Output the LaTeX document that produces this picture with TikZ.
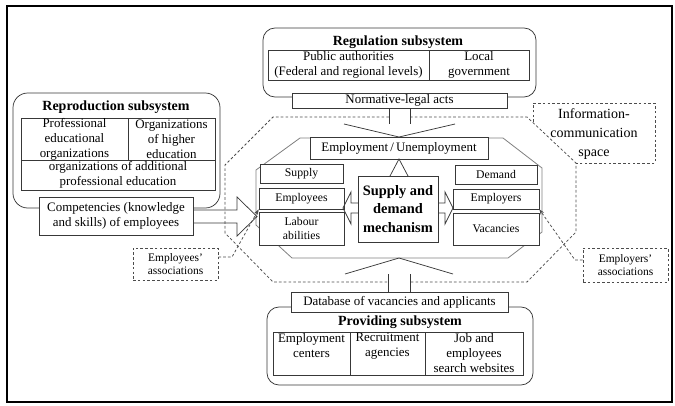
\documentclass[tikz,border=0pt]{standalone}
\usepackage{fontspec}
\setmainfont{Liberation Serif}
\usetikzlibrary{arrows.meta}
\begin{document}
\begin{tikzpicture}[x=0.75pt,y=-0.75pt,
  ln/.style={draw=black!78, line width=0.55pt},
  bx/.style={ln, fill=white, rectangle, inner sep=0pt, align=center, font=\fontsize{9.7}{11.3}\selectfont},
  wh/.style 2 args={minimum width={#1*0.75pt}, minimum height={#2*0.75pt}},
  sm/.style={font=\fontsize{8.8}{10.4}\selectfont},
  txt/.style={inner sep=0pt, align=center, font=\fontsize{9.7}{11.3}\selectfont},
  ttl/.style={inner sep=0pt, font=\bfseries\fontsize{10.5}{12}\selectfont},
  rnd/.style={ln, fill=white, rectangle, rounded corners=9pt, inner sep=0pt},
  dsh/.style={draw=black!70, line width=0.55pt, dash pattern=on 2pt off 1.6pt},
  dbx/.style={dsh, fill=white, rectangle, inner sep=0pt, align=center, font=\fontsize{8.6}{9.8}\selectfont},
  oct/.style={draw=black!50, line width=0.6pt},
  tip/.style={-{Stealth[length=4pt,width=3pt]}},
]
\useasboundingbox (0,0) rectangle (675,405);
\draw[line width=1.6pt] (7,6) rectangle (672,402);

% information-communication space (dashed octagon)
\draw[dsh] (389,117) -- (273,117) -- (225,165) -- (225,233) -- (273,282) -- (388,282);
\draw[dsh] (410,117) -- (527,117) -- (576,163) -- (576,232) -- (527,282) -- (410,282);
\draw[dsh] (533,122) -- (533,103) -- (655,103) -- (655,163) -- (576,163);
\node[txt, font=\fontsize{10.5}{14}\selectfont] (info) at (594,134) {Information-\\communication\\space};

% market octagon
\draw[oct] (256,170) -- (300,138) -- (503,138) -- (542,168) -- (542,232) -- (508,258) -- (292,258) -- (256,225) -- cycle;

% Regulation subsystem
\node[rnd, wh={273}{69}] (reg) at (399.5,62.5) {};
\node[ttl] (regt) at (398,42) {Regulation subsystem};
\node[bx, wh={161}{30}] (pub) at (348.5,65) {Public authorities\\(Federal and regional levels)};
\node[bx, wh={100}{30}] (loc) at (479,65) {Local\\government};
\node[bx, wh={215}{15}] (norm) at (399.5,100.5) {Normative-legal acts};
\draw[ln] (389,108) -- (389,124);
\draw[ln] (410,108) -- (410,124);
\draw[ln] (344,124) -- (399,137) -- (455,124);

\node[bx, wh={178}{22}] (eu) at (399,148) {Employment\,/\,Unemployment};

% Reproduction subsystem
\node[rnd, rounded corners=11pt, wh={207}{115}] (rep) at (116.5,150.5) {};
\node[ttl] (rept) at (116,107) {Reproduction subsystem};
\node[bx, wh={107}{42}] (prof) at (74.5,139) {Professional\\educational\\organizations};
\node[bx, wh={87}{42}] (high) at (171.5,139) {Organizations\\of higher\\education};
\node[bx, wh={194}{30}] (add) at (118,175) {organizations of additional\\professional education};
\node[bx, wh={154}{38}] (comp) at (116,216) {Competencies (knowledge\\and skills) of employees};
\draw[ln] (193,210) -- (237,210) -- (237,197) -- (257,216.5) -- (237,236) -- (237,223) -- (193,223);

% left column
\node[bx, sm, wh={83}{19}] (sup) at (301.5,173.5) {Supply};
\node[bx, sm, wh={85}{21}] (emp) at (301.5,198.5) {Employees};
\node[bx, sm, wh={85}{33}] (lab) at (301.5,228.5) {Labour\\abilities};
% right column
\node[bx, sm, wh={82}{19}] (dem) at (496,174.5) {Demand};
\node[bx, sm, wh={86}{20}] (empl) at (496,199) {Employers};
\node[bx, sm, wh={86}{32}] (vac) at (496,229) {Vacancies};

% mechanism
\node[bx, wh={80}{66}, font=\bfseries\fontsize{10.8}{14}\selectfont] (sdm) at (398,209) {Supply and\\demand\\mechanism};
\draw[ln] (390,176) -- (399,159) -- (408,176);
\draw[ln] (358,203) -- (351,203) -- (351,192) -- (343,208) -- (351,224) -- (351,213) -- (358,213);
\draw[ln] (438,203) -- (445,203) -- (445,192) -- (453,208) -- (445,224) -- (445,213) -- (438,213);

% Providing subsystem
\node[rnd, wh={266}{78}] (prov) at (400,346) {};
\node[ttl] (provt) at (400,322) {Providing subsystem};
\node[bx, wh={77}{43}] (c1) at (311.5,353.5) {};
\node[bx, wh={75}{43}] (c2) at (387.5,353.5) {};
\node[bx, wh={98}{43}] (c3) at (474,353.5) {};
\node[txt, anchor=north] (t1) at (311.5,333) {Employment\\centers};
\node[txt, anchor=north] (t2) at (387.5,333) {Recruitment\\agencies};
\node[txt, anchor=north] (t3) at (474,333) {Job and\\employees\\search websites};
\node[bx, wh={217}{20}] (db) at (399.5,302) {Database of vacancies and applicants};
\draw[ln] (388,292) -- (388,274);
\draw[ln] (410,292) -- (410,274);
\draw[ln] (345,274) -- (399,258) -- (453,274);

% associations
\node[dbx, wh={85}{32}] (ea) at (175.5,264) {Employees'\\associations};
\node[dbx, wh={85}{34}] (era) at (625.5,265) {Employers'\\associations};
\coordinate (eaB) at (232,257);
\draw[dsh, tip] (ea.east |- eaB) -- (eaB) -- (emp.south west);
\coordinate (erB) at (575,260);
\draw[dsh, tip] (era.west |- erB) -- (erB) -- (empl.south east);
\end{tikzpicture}
\end{document}
